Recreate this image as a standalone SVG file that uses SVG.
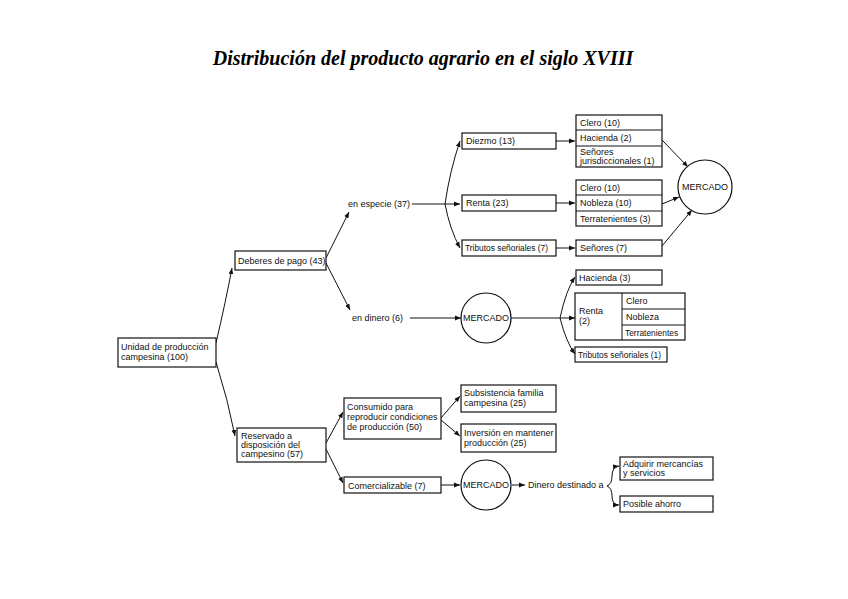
<svg xmlns="http://www.w3.org/2000/svg" width="848" height="599" viewBox="0 0 848 599">
<style>
  .t{font-family:"Liberation Sans",Arial,sans-serif;font-size:9px;fill:#111}
  .s{font-size:8.4px}
  .c{text-anchor:middle}
  .b{fill:#fff;stroke:#111;stroke-width:1.2}
  .l{fill:none;stroke:#111;stroke-width:1}
  .title{font-family:"Liberation Serif","Times New Roman",serif;font-size:20px;font-weight:bold;font-style:italic;fill:#000}
</style>
<defs>
  <marker id="ar" viewBox="0 0 10 10" refX="10" refY="5" markerWidth="6" markerHeight="6" orient="auto" markerUnits="userSpaceOnUse">
    <path d="M0,1 L10,5 L0,9 Z" fill="#111"/>
  </marker>
</defs>
<rect width="848" height="599" fill="#fff"/>
<text class="title" x="423" y="65" text-anchor="middle">Distribución del producto agrario en el siglo XVIII</text>

<g id="connectors">
  <path class="l" d="M216,343 Q226,300 232,268" marker-end="url(#ar)"/>
  <path class="l" d="M216,362 Q228,400 235,436" marker-end="url(#ar)"/>
  <path class="l" d="M326,258 L349,212" marker-end="url(#ar)"/>
  <path class="l" d="M326,263 L350,310" marker-end="url(#ar)"/>
  <path class="l" d="M412,204 L445,204"/>
  <path class="l" d="M445,204 Q450,170 460,141" marker-end="url(#ar)"/>
  <path class="l" d="M445,204 L460,204" marker-end="url(#ar)"/>
  <path class="l" d="M445,204 Q450,230 460,248" marker-end="url(#ar)"/>
  <path class="l" d="M556,141 L575,141" marker-end="url(#ar)"/>
  <path class="l" d="M556,203 L575,203" marker-end="url(#ar)"/>
  <path class="l" d="M556,248 L575,248" marker-end="url(#ar)"/>
  <path class="l" d="M662,140 L688,167" marker-end="url(#ar)"/>
  <path class="l" d="M662,204 L679,197" marker-end="url(#ar)"/>
  <path class="l" d="M662,246 L692,210" marker-end="url(#ar)"/>
  <path class="l" d="M410,318 L461,318" marker-end="url(#ar)"/>
  <path class="l" d="M511,318 L560,318"/>
  <path class="l" d="M560,318 Q566,290 575,277" marker-end="url(#ar)"/>
  <path class="l" d="M560,318 L575,318" marker-end="url(#ar)"/>
  <path class="l" d="M560,318 Q566,342 575,354" marker-end="url(#ar)"/>
  <path class="l" d="M604,318 L621,302" marker-end="url(#ar)"/>
  <path class="l" d="M604,318 L621,317" marker-end="url(#ar)"/>
  <path class="l" d="M604,318 L621,333" marker-end="url(#ar)"/>
  <path class="l" d="M326,443 L343,412" marker-end="url(#ar)"/>
  <path class="l" d="M326,449 L343,483" marker-end="url(#ar)"/>
  <path class="l" d="M441,418 L460,396" marker-end="url(#ar)"/>
  <path class="l" d="M441,420 L460,436" marker-end="url(#ar)"/>
  <path class="l" d="M441,485 L460,485" marker-end="url(#ar)"/>
  <path class="l" d="M512,485 L525,485" marker-end="url(#ar)"/>
  <path class="l" d="M607,486 Q612,484 612,476 Q612,467 619,466" marker-end="url(#ar)"/>
  <path class="l" d="M607,486 Q612,488 612,496 Q612,505 619,505" marker-end="url(#ar)"/>
</g>

<g id="unidad">
  <rect class="b" x="118" y="338" width="98" height="29"/>
  <text class="t" x="121" y="350">Unidad de producción</text>
  <text class="t" x="121" y="360">campesina (100)</text>
</g>
<g id="deberes">
  <rect class="b" x="235" y="251" width="91" height="19"/>
  <text class="t" x="238" y="264">Deberes de pago (43)</text>
</g>
<g id="reservado">
  <rect class="b" x="237" y="428" width="89" height="34"/>
  <text class="t" x="241" y="439">Reservado a</text>
  <text class="t" x="241" y="448">disposición del</text>
  <text class="t" x="241" y="457">campesino (57)</text>
</g>
<g id="especie">
  <text class="t" x="348" y="207">en especie (37)</text>
</g>
<g id="dinero">
  <text class="t" x="352" y="321">en dinero (6)</text>
</g>
<g id="diezmo">
  <rect class="b" x="462" y="133" width="94" height="16"/>
  <text class="t" x="466" y="144">Diezmo (13)</text>
</g>
<g id="renta23">
  <rect class="b" x="462" y="195" width="94" height="16"/>
  <text class="t" x="466" y="206">Renta (23)</text>
</g>
<g id="tributos7">
  <rect class="b" x="462" y="240" width="94" height="16"/>
  <text class="t s" x="465" y="251">Tributos señoriales (7)</text>
</g>
<g id="diezmo-dest">
  <rect class="b" x="576" y="115" width="86" height="52"/>
  <line class="l" x1="576" y1="130" x2="662" y2="130"/>
  <line class="l" x1="576" y1="146" x2="662" y2="146"/>
  <text class="t" x="580" y="126">Clero (10)</text>
  <text class="t" x="580" y="141">Hacienda (2)</text>
  <text class="t" x="580" y="155">Señores</text>
  <text class="t" x="580" y="164">jurisdiccionales (1)</text>
</g>
<g id="renta-dest">
  <rect class="b" x="576" y="180" width="86" height="46"/>
  <line class="l" x1="576" y1="195" x2="662" y2="195"/>
  <line class="l" x1="576" y1="211" x2="662" y2="211"/>
  <text class="t" x="580" y="191">Clero (10)</text>
  <text class="t" x="580" y="206">Nobleza (10)</text>
  <text class="t" x="580" y="222">Terratenientes (3)</text>
</g>
<g id="senores7">
  <rect class="b" x="576" y="240" width="86" height="16"/>
  <text class="t" x="580" y="251">Señores (7)</text>
</g>
<g id="mercado1">
  <circle class="b" cx="705" cy="187" r="27"/>
  <text class="t c" x="705" y="190">MERCADO</text>
</g>
<g id="mercado2">
  <circle class="b" cx="486" cy="318" r="25"/>
  <text class="t c" x="486" y="321">MERCADO</text>
</g>
<g id="hacienda3">
  <rect class="b" x="576" y="270" width="86" height="15"/>
  <text class="t" x="579" y="281">Hacienda (3)</text>
</g>
<g id="renta2">
  <rect class="b" x="575" y="293" width="110" height="47"/>
  <line class="l" x1="622" y1="293" x2="622" y2="340"/>
  <line class="l" x1="622" y1="309" x2="685" y2="309"/>
  <line class="l" x1="622" y1="325" x2="685" y2="325"/>
  <text class="t" x="579" y="314">Renta</text>
  <text class="t" x="579" y="324">(2)</text>
  <text class="t" x="626" y="304">Clero</text>
  <text class="t" x="626" y="320">Nobleza</text>
  <text class="t s" x="625" y="336">Terratenientes</text>
</g>
<g id="tributos1">
  <rect class="b" x="575" y="347" width="92" height="15"/>
  <text class="t s" x="578" y="358">Tributos señoriales (1)</text>
</g>
<g id="consumido">
  <rect class="b" x="344" y="398" width="97" height="41"/>
  <text class="t" x="347" y="410">Consumido para</text>
  <text class="t" x="347" y="420">reproducir condiciones</text>
  <text class="t" x="347" y="430">de producción (50)</text>
</g>
<g id="subsistencia">
  <rect class="b" x="461" y="385" width="95" height="27"/>
  <text class="t" x="464" y="396">Subsistencia familia</text>
  <text class="t" x="464" y="406">campesina (25)</text>
</g>
<g id="inversion">
  <rect class="b" x="461" y="424" width="95" height="28"/>
  <text class="t" x="464" y="436">Inversión en mantener</text>
  <text class="t" x="464" y="446">producción (25)</text>
</g>
<g id="comercializable">
  <rect class="b" x="344" y="477" width="97" height="16"/>
  <text class="t" x="348" y="489">Comercializable (7)</text>
</g>
<g id="mercado3">
  <circle class="b" cx="486" cy="485" r="25"/>
  <text class="t c" x="486" y="488">MERCADO</text>
</g>
<g id="destinado">
  <text class="t" x="528" y="488">Dinero destinado a</text>
</g>
<g id="adquirir">
  <rect class="b" x="620" y="457" width="93" height="23"/>
  <text class="t" x="623" y="467">Adquirir mercancías</text>
  <text class="t" x="623" y="476">y servicios</text>
</g>
<g id="ahorro">
  <rect class="b" x="620" y="496" width="93" height="16"/>
  <text class="t" x="623" y="507">Posible ahorro</text>
</g>
</svg>
